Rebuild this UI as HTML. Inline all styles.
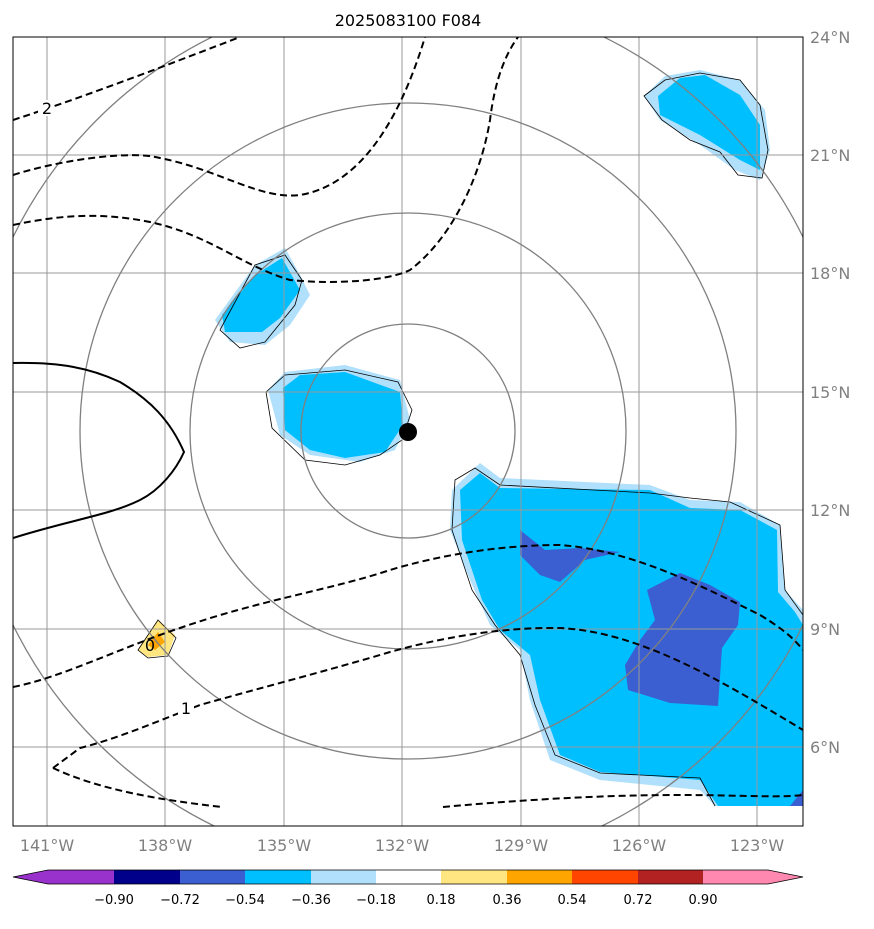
<!DOCTYPE html>
<html><head><meta charset="utf-8"><style>
body{margin:0;background:#fff;width:874px;height:924px;overflow:hidden;font-family:"Liberation Sans","DejaVu Sans",sans-serif}
</style></head><body>
<svg width="874" height="924" xmlns="http://www.w3.org/2000/svg" font-family="DejaVu Sans, Liberation Sans, sans-serif">
<text x="408" y="26" font-size="16" text-anchor="middle">2025083100 F084</text>
<defs><clipPath id="c"><rect x="13" y="37" width="790" height="789"/></clipPath></defs>
<g clip-path="url(#c)">
<g fill="#b0e0fb">
<path d="M644,96 L665,76 L700,70 L740,80 L765,110 L770,150 L760,180 L735,170 L700,145 L660,120 Z"/>
<path d="M215,320 L255,265 L285,248 L300,275 L310,295 L290,325 L265,345 L230,342 Z"/>
<path d="M268,390 L285,372 L345,365 L400,380 L410,420 L395,450 L360,462 L310,455 L280,435 Z"/>
<path d="M452,490 L480,463 L500,478 L650,485 L690,500 L740,502 L780,525 L785,590 L803,610 L803,806 L715,806 L700,790 L600,780 L550,760 L530,700 L520,650 L490,625 L470,580 L450,530 Z"/>
</g>
<g fill="#00bfff">
<path d="M658,96 L680,78 L705,75 L740,95 L760,125 L760,170 L740,160 L700,135 L660,115 Z"/>
<path d="M222,315 L255,275 L282,258 L300,290 L280,318 L262,332 L225,332 Z"/>
<path d="M283,388 L300,375 L345,372 L400,392 L403,425 L385,452 L345,458 L310,450 L285,430 Z"/>
<path d="M460,490 L480,473 L500,488 L650,490 L690,508 L740,510 L777,530 L778,592 L795,612 L803,625 L803,806 L718,806 L700,780 L600,772 L560,755 L540,700 L530,655 L500,630 L482,600 L462,540 Z"/>
</g>
<g fill="#3b5fd0">
<path d="M520,530 L545,550 L580,548 L620,552 L585,560 L560,582 L540,575 L520,555 Z"/>
<path d="M647,590 L680,573 L710,585 L740,602 L738,625 L722,648 L718,706 L670,703 L628,690 L625,665 L640,640 L655,620 Z"/>
<path d="M790,806 L803,790 L803,806 Z"/>
</g>
<path d="M138,650 L158,620 L175,635 L168,655 L148,657 Z" fill="#ffe680"/>
<path d="M148,645 L158,632 L165,642 L155,650 Z" fill="#ffa500"/>
<g fill="none" stroke="#000" stroke-width="0.8">
<path d="M644,96 L665,80 L700,73 L740,80 L760,105 L768,150 L762,178 L738,175 L720,152 L690,140 L662,120 Z"/>
<path d="M220,330 L255,265 L285,255 L302,280 L295,305 L265,342 L240,348 Z"/>
<path d="M266,392 L285,375 L345,370 L398,382 L412,410 L402,440 L380,455 L345,465 L305,460 L272,428 Z"/>
<path d="M803,615 L785,590 L780,525 L730,502 L690,498 L650,493 L500,485 L475,468 L455,480 L452,530 L472,590 L495,625 L520,655 L535,705 L555,755 L600,773 L700,778 L715,806"/>
<path d="M138,650 L158,620 L176,638 L168,656 L148,658 Z"/>
</g>
<g stroke="#999" stroke-width="1">
<line x1="47" y1="37" x2="47" y2="826"/><line x1="165" y1="37" x2="165" y2="826"/><line x1="284" y1="37" x2="284" y2="826"/><line x1="402" y1="37" x2="402" y2="826"/><line x1="521" y1="37" x2="521" y2="826"/><line x1="639" y1="37" x2="639" y2="826"/><line x1="757" y1="37" x2="757" y2="826"/>
<line x1="13" y1="155" x2="803" y2="155"/><line x1="13" y1="273" x2="803" y2="273"/><line x1="13" y1="392" x2="803" y2="392"/><line x1="13" y1="510" x2="803" y2="510"/><line x1="13" y1="629" x2="803" y2="629"/><line x1="13" y1="747" x2="803" y2="747"/>
</g>
<g fill="none" stroke="#808080" stroke-width="1.3">
<circle cx="408" cy="431" r="107"/><circle cx="408" cy="431" r="218"/><circle cx="408" cy="431" r="328"/><circle cx="408" cy="431" r="440"/>
</g>
<g fill="none" stroke="#000" stroke-width="2" stroke-dasharray="7,4">
<path d="M13,120 C90,95 180,60 240,37"/>
<path d="M13,175 C60,160 130,150 160,158 C220,170 260,200 300,195 C360,185 400,120 425,37"/>
<path d="M13,225 C60,215 100,212 150,222 C210,235 240,265 290,280 C340,285 390,280 410,270 C450,240 480,180 490,120 C495,80 505,55 518,37"/>
<path d="M13,687 C60,678 120,648 180,628 C260,600 330,590 390,570 C440,555 500,545 560,545 C630,550 700,585 760,615 C785,630 795,640 803,650"/>
<path d="M53,768 L80,748 C120,738 160,720 200,705 C260,688 330,670 390,652 C440,638 500,627 560,628 C640,632 720,680 803,730"/>
<path d="M53,768 C100,790 160,800 222,807"/>
<path d="M443,807 C520,800 600,795 680,795 C740,795 780,798 803,795"/>
</g>
<path d="M13,363 C60,362 90,368 120,382 C150,400 170,420 184,452 C176,470 160,490 140,500 C110,515 70,520 13,538" fill="none" stroke="#000" stroke-width="2"/>
<g font-size="16" text-anchor="middle">
<rect x="38" y="100" width="16" height="16" fill="#fff"/><text x="47" y="114">2</text>
<rect x="178" y="700" width="16" height="16" fill="#fff"/><text x="186" y="714">1</text>
<text x="150" y="651">0</text>
</g>
<circle cx="408" cy="432" r="9" fill="#000"/>
</g>
<rect x="13" y="37" width="790" height="789" fill="none" stroke="#000" stroke-width="1"/>
<g font-size="16" fill="#808080" text-anchor="middle">
<text x="47" y="851">141°W</text><text x="165" y="851">138°W</text><text x="284" y="851">135°W</text><text x="402" y="851">132°W</text><text x="521" y="851">129°W</text><text x="639" y="851">126°W</text><text x="757" y="851">123°W</text>
</g>
<g font-size="16" fill="#808080">
<text x="810" y="43">24°N</text><text x="810" y="161">21°N</text><text x="810" y="279">18°N</text><text x="810" y="398">15°N</text><text x="810" y="516">12°N</text><text x="810" y="635">9°N</text><text x="810" y="753">6°N</text>
</g>
<g stroke="none">
<path d="M13,877 L48,870 L114,870 L114,884 L48,884 Z" fill="#9932cc"/>
<rect x="114" y="870" width="66" height="14" fill="#00008b"/>
<rect x="180" y="870" width="65" height="14" fill="#3b5fd0"/>
<rect x="245" y="870" width="66" height="14" fill="#00bfff"/>
<rect x="311" y="870" width="65" height="14" fill="#b0e0fb"/>
<rect x="376" y="870" width="65" height="14" fill="#ffffff"/>
<rect x="441" y="870" width="66" height="14" fill="#ffe680"/>
<rect x="507" y="870" width="65" height="14" fill="#ffa500"/>
<rect x="572" y="870" width="66" height="14" fill="#ff4500"/>
<rect x="638" y="870" width="65" height="14" fill="#b22222"/>
<path d="M703,870 L768,870 L803,877 L768,884 L703,884 Z" fill="#ff88b0"/>
</g>
<path d="M13,877 L48,870 L768,870 L803,877 L768,884 L48,884 Z" fill="none" stroke="#000" stroke-width="0.8"/>
<g font-size="13" text-anchor="middle">
<text x="114" y="904">−0.90</text><text x="180" y="904">−0.72</text><text x="245" y="904">−0.54</text><text x="311" y="904">−0.36</text><text x="376" y="904">−0.18</text><text x="441" y="904">0.18</text><text x="507" y="904">0.36</text><text x="572" y="904">0.54</text><text x="638" y="904">0.72</text><text x="703" y="904">0.90</text>
</g>
</svg>
</body></html>
